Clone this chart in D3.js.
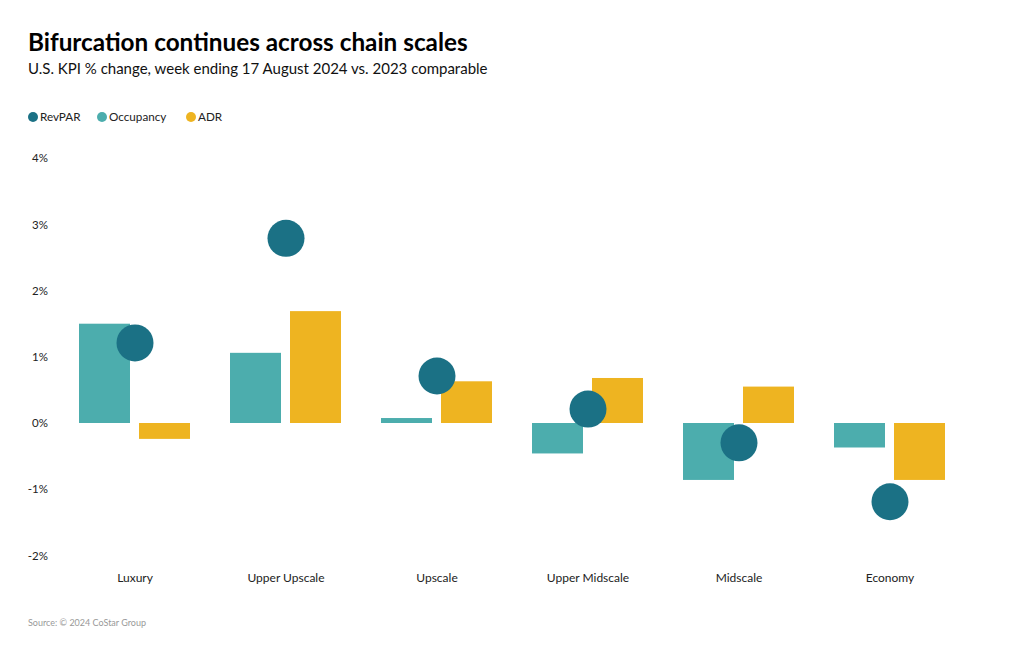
<!DOCTYPE html>
<html>
<head>
<meta charset="utf-8">
<script src="https://cdn.jsdelivr.net/npm/d3@7"></script>
<style>
  html, body { margin: 0; padding: 0; background: #fff; }
  svg { display: block; font-family: Lato, "Open Sans", sans-serif; }
</style>
</head>
<body>
<svg id="chart" width="1020" height="650"></svg>
<script>
const categories = ["Luxury", "Upper Upscale", "Upscale", "Upper Midscale", "Midscale", "Economy"];
const revpar = [1.21, 2.79, 0.71, 0.21, -0.30, -1.19];
const occupancy = [1.50, 1.06, 0.075, -0.46, -0.86, -0.37];
const adr = [-0.24, 1.69, 0.63, 0.68, 0.55, -0.86];
const yTicks = [-2, -1, 0, 1, 2, 3, 4];
const seriesNames = ["RevPAR", "Occupancy", "ADR"];
const colors = { RevPAR: "#1b7185", Occupancy: "#4cadad", ADR: "#eeb421" };

const svg = d3.select("#chart");

svg.append("text").attr("x", 28).attr("y", 51)
  .attr("font-size", 24.3).attr("font-weight", 700).attr("fill", "#000")
  .text("Bifurcation continues across chain scales");
svg.append("text").attr("x", 28).attr("y", 74)
  .attr("font-size", 15).attr("fill", "#111")
  .text("U.S. KPI % change, week ending 17 August 2024 vs. 2023 comparable");

// legend
const legendX = [28, 97, 186];
const lg = svg.append("g");
seriesNames.forEach((s, i) => {
  const g = lg.append("g").attr("transform", `translate(${legendX[i]},117)`);
  g.append("circle").attr("cx", 5).attr("cy", 0).attr("r", 5).attr("fill", colors[s]);
  g.append("text").attr("x", 12).attr("y", 4).attr("font-size", 11.7).attr("fill", "#222").text(s);
});

const y = d3.scaleLinear().domain([-2, 4]).range([555.4, 158.2]);
const x = d3.scaleBand().domain(categories).range([59.5, 965.5]);
const sub = d3.scaleBand().domain(["Occupancy", "ADR"]).range([-56, 55]).paddingInner(0.15);

// y axis
const yAxis = d3.axisLeft(y).tickValues(yTicks).tickSize(0).tickFormat(d => d + "%");
const ya = svg.append("g").attr("transform", "translate(51,0)").call(yAxis);
ya.select(".domain").remove();
ya.selectAll("text").attr("font-size", 11.5).attr("fill", "#222").attr("font-family", "Lato, sans-serif");

// x axis
const xAxis = d3.axisBottom(x).tickSize(0);
const xa = svg.append("g").attr("transform", "translate(0,570)").call(xAxis);
xa.select(".domain").remove();
xa.selectAll("text").attr("font-size", 12).attr("fill", "#222").attr("font-family", "Lato, sans-serif");

// bars
const barData = [];
categories.forEach((c, i) => {
  barData.push({ c, s: "Occupancy", v: occupancy[i] });
  barData.push({ c, s: "ADR", v: adr[i] });
});
svg.append("g").selectAll("rect").data(barData).join("rect")
  .attr("x", d => x(d.c) + x.bandwidth() / 2 + sub(d.s))
  .attr("width", sub.bandwidth())
  .attr("y", d => y(Math.max(0, d.v)))
  .attr("height", d => Math.abs(y(d.v) - y(0)))
  .attr("fill", d => colors[d.s]);

// RevPAR dots
svg.append("g").selectAll("circle").data(categories.map((c, i) => ({ c, v: revpar[i] }))).join("circle")
  .attr("cx", d => x(d.c) + x.bandwidth() / 2)
  .attr("cy", d => y(d.v))
  .attr("r", 18.5)
  .attr("fill", colors.RevPAR);

svg.append("text").attr("x", 28).attr("y", 626)
  .attr("font-size", 9).attr("fill", "#999")
  .text("Source: © 2024 CoStar Group");
</script>
</body>
</html>
